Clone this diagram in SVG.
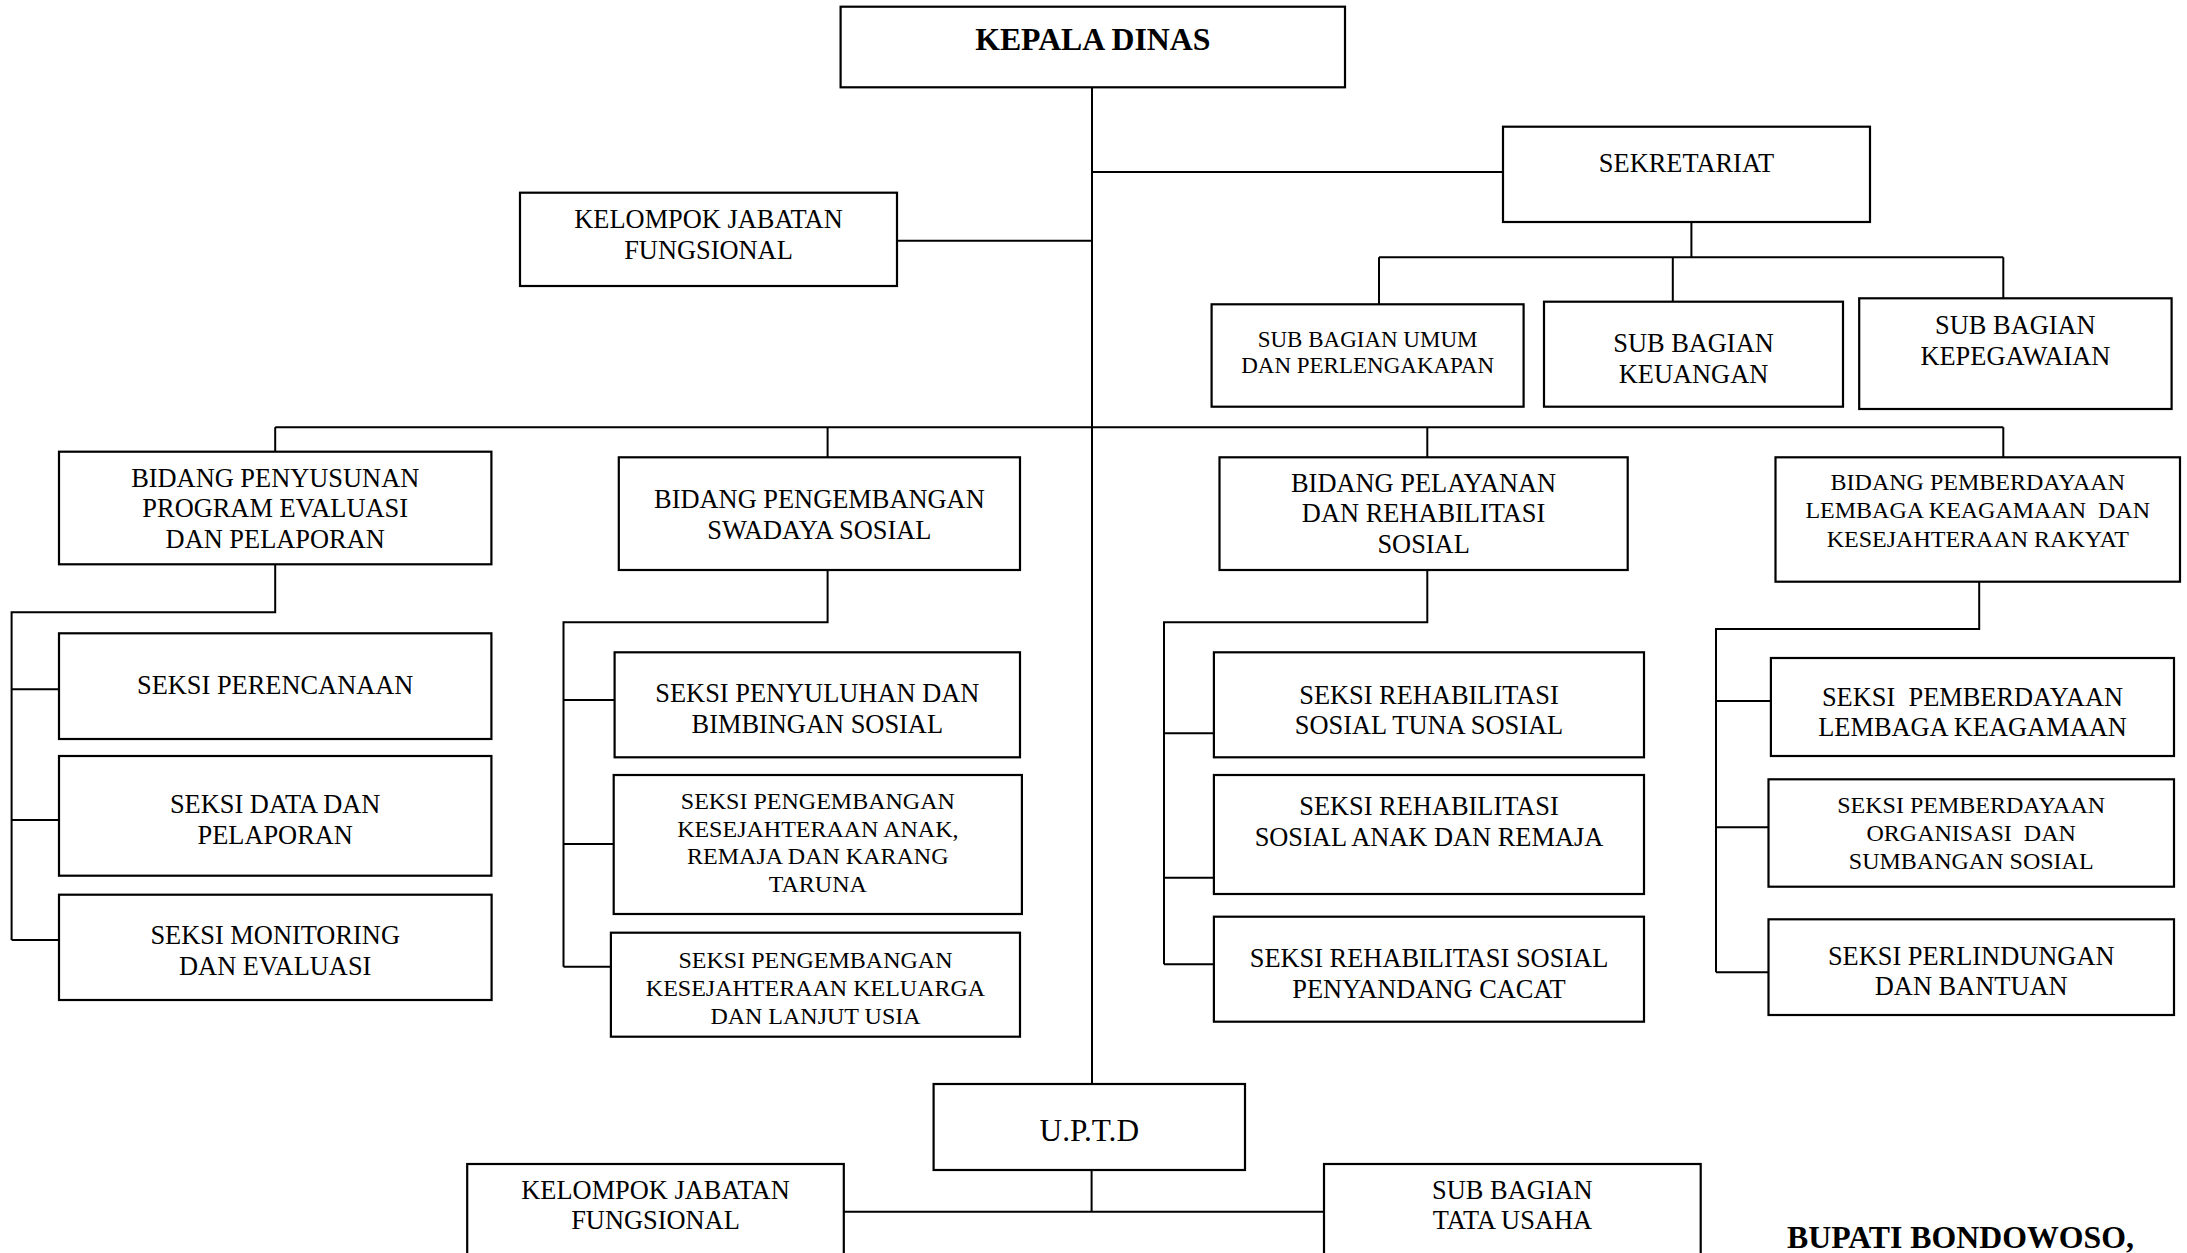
<svg xmlns="http://www.w3.org/2000/svg" width="2187" height="1253" viewBox="0 0 2187 1253">
  <style>
    .box { fill: #fff; stroke: #000; stroke-width: 2.2; }
    .link { fill: none; stroke: #000; stroke-width: 2; }
    text { font-family: "Liberation Serif", "Times New Roman", serif; fill: #000; text-anchor: middle; font-size: 26.4px; }
    .sm { font-size: 24px; }
    .xs { font-size: 23px; }
    .head { font-weight: bold; font-size: 31.8px; }
  </style>

  <rect width="2187" height="1253" fill="#fff"/>

  <!-- connectors -->
  <g id="connectors" class="link">
    <path d="M1092,87 V1084"/>
    <path d="M897,240.7 H1092"/>
    <path d="M1092,172 H1503"/>
    <path d="M1691.4,222 V257.3 M1379,257.3 H2003.3 M1379,257.3 V304.3 M1672.8,257.3 V301.7 M2003.3,257.3 V298.3"/>
    <path d="M275.2,427.3 H2003.3 M275.2,427.3 V451.7 M827.6,427.3 V457.3 M1427.3,427.3 V457.3 M2003.3,427.3 V457.3"/>
    <path d="M275.2,564.3 V612.3 H11.6 V940 M11.6,689.3 H59 M11.6,820 H59 M11.6,940 H59"/>
    <path d="M827.6,570 V622.3 H563.5 V966.7 M563.5,700 H614.6 M563.5,844 H613.7 M563.5,966.7 H610.9"/>
    <path d="M1427.3,570 V622.3 H1164 V964.3 M1164,733.3 H1213.9 M1164,877.7 H1213.9 M1164,964.3 H1213.9"/>
    <path d="M1979.2,581.7 V629 H1716 V972.3 M1716,701 H1770.9 M1716,827.3 H1768.5 M1716,972.3 H1768.5"/>
    <path d="M1091.6,1170 V1211.7 M843.8,1211.7 H1324"/>
  </g>

  <!-- head of office -->
  <g id="kepala-dinas">
    <rect class="box" x="840.6" y="6.7" width="504.4" height="80.6"/>
    <text class="head" x="1092.8" y="50">KEPALA DINAS</text>
  </g>

  <g id="kelompok-jabatan-fungsional">
    <rect class="box" x="520" y="192.7" width="377" height="93.3"/>
    <text x="708.5" y="228">KELOMPOK JABATAN</text>
    <text x="708.5" y="259">FUNGSIONAL</text>
  </g>

  <g id="sekretariat">
    <rect class="box" x="1503" y="126.7" width="367" height="95.3"/>
    <text x="1686.5" y="172">SEKRETARIAT</text>
  </g>

  <g id="sub-bagian-umum">
    <rect class="box" x="1211.6" y="304.3" width="312" height="102.4"/>
    <text class="xs" x="1367.6" y="346.5">SUB BAGIAN UMUM</text>
    <text class="xs" x="1367.6" y="373">DAN PERLENGAKAPAN</text>
  </g>

  <g id="sub-bagian-keuangan">
    <rect class="box" x="1544" y="301.7" width="299" height="105"/>
    <text x="1693.5" y="352">SUB BAGIAN</text>
    <text x="1693.5" y="383">KEUANGAN</text>
  </g>

  <g id="sub-bagian-kepegawaian">
    <rect class="box" x="1859.2" y="298.3" width="312.4" height="110.7"/>
    <text x="2015.4" y="334">SUB BAGIAN</text>
    <text x="2015.4" y="365">KEPEGAWAIAN</text>
  </g>

  <!-- bidang -->
  <g id="bidang-penyusunan">
    <rect class="box" x="59" y="451.7" width="432.4" height="112.6"/>
    <text x="275.2" y="486.5">BIDANG PENYUSUNAN</text>
    <text x="275.2" y="517">PROGRAM EVALUASI</text>
    <text x="275.2" y="547.5">DAN PELAPORAN</text>
  </g>

  <g id="bidang-pengembangan">
    <rect class="box" x="618.8" y="457.3" width="401.2" height="112.7"/>
    <text x="819.4" y="507.5">BIDANG PENGEMBANGAN</text>
    <text x="819.4" y="538.5">SWADAYA SOSIAL</text>
  </g>

  <g id="bidang-pelayanan">
    <rect class="box" x="1219.5" y="457.3" width="408.2" height="112.7"/>
    <text x="1423.6" y="492">BIDANG PELAYANAN</text>
    <text x="1423.6" y="522">DAN REHABILITASI</text>
    <text x="1423.6" y="552.5">SOSIAL</text>
  </g>

  <g id="bidang-pemberdayaan">
    <rect class="box" x="1775.5" y="457.3" width="404.5" height="124.4"/>
    <text class="sm" x="1977.8" y="490">BIDANG PEMBERDAYAAN</text>
    <text class="sm" x="1977.8" y="517.5" xml:space="preserve">LEMBAGA KEAGAMAAN  DAN</text>
    <text class="sm" x="1977.8" y="547">KESEJAHTERAAN RAKYAT</text>
  </g>

  <!-- seksi, column 1 -->
  <g id="seksi-perencanaan">
    <rect class="box" x="59" y="633.3" width="432.4" height="105.7"/>
    <text x="275.2" y="694">SEKSI PERENCANAAN</text>
  </g>

  <g id="seksi-data">
    <rect class="box" x="59" y="756" width="432.4" height="119.7"/>
    <text x="275.2" y="812.5">SEKSI DATA DAN</text>
    <text x="275.2" y="843.5">PELAPORAN</text>
  </g>

  <g id="seksi-monitoring">
    <rect class="box" x="59" y="894.7" width="432.6" height="105.3"/>
    <text x="275.2" y="944">SEKSI MONITORING</text>
    <text x="275.2" y="975">DAN EVALUASI</text>
  </g>

  <!-- seksi, column 2 -->
  <g id="seksi-penyuluhan">
    <rect class="box" x="614.6" y="652.3" width="405.4" height="105"/>
    <text x="817.3" y="702">SEKSI PENYULUHAN DAN</text>
    <text x="817.3" y="733">BIMBINGAN SOSIAL</text>
  </g>

  <g id="seksi-kesejahteraan-anak">
    <rect class="box" x="613.7" y="775" width="408.2" height="139"/>
    <text class="sm" x="817.8" y="808.5">SEKSI PENGEMBANGAN</text>
    <text class="sm" x="817.8" y="836.5">KESEJAHTERAAN ANAK,</text>
    <text class="sm" x="817.8" y="864">REMAJA DAN KARANG</text>
    <text class="sm" x="817.8" y="891.5">TARUNA</text>
  </g>

  <g id="seksi-kesejahteraan-keluarga">
    <rect class="box" x="610.9" y="932.7" width="409.1" height="104"/>
    <text class="sm" x="815.5" y="968">SEKSI PENGEMBANGAN</text>
    <text class="sm" x="815.5" y="996">KESEJAHTERAAN KELUARGA</text>
    <text class="sm" x="815.5" y="1024">DAN LANJUT USIA</text>
  </g>

  <!-- seksi, column 3 -->
  <g id="seksi-tuna-sosial">
    <rect class="box" x="1213.9" y="652.3" width="430.1" height="105"/>
    <text x="1429" y="704">SEKSI REHABILITASI</text>
    <text x="1429" y="734">SOSIAL TUNA SOSIAL</text>
  </g>

  <g id="seksi-anak-remaja">
    <rect class="box" x="1213.9" y="775" width="430.1" height="119"/>
    <text x="1429" y="815">SEKSI REHABILITASI</text>
    <text x="1429" y="846">SOSIAL ANAK DAN REMAJA</text>
  </g>

  <g id="seksi-penyandang-cacat">
    <rect class="box" x="1213.9" y="916.7" width="430.1" height="105"/>
    <text x="1429" y="967">SEKSI REHABILITASI SOSIAL</text>
    <text x="1429" y="998">PENYANDANG CACAT</text>
  </g>

  <!-- seksi, column 4 -->
  <g id="seksi-lembaga-keagamaan">
    <rect class="box" x="1770.9" y="658" width="403.1" height="98"/>
    <text x="1972.5" y="706" xml:space="preserve">SEKSI  PEMBERDAYAAN</text>
    <text x="1972.5" y="736">LEMBAGA KEAGAMAAN</text>
  </g>

  <g id="seksi-organisasi-sumbangan">
    <rect class="box" x="1768.5" y="779.3" width="405.5" height="107.4"/>
    <text class="sm" x="1971.2" y="813">SEKSI PEMBERDAYAAN</text>
    <text class="sm" x="1971.2" y="841" xml:space="preserve">ORGANISASI  DAN</text>
    <text class="sm" x="1971.2" y="869">SUMBANGAN SOSIAL</text>
  </g>

  <g id="seksi-perlindungan">
    <rect class="box" x="1768.5" y="919.3" width="405.5" height="95.7"/>
    <text x="1971.2" y="964.5">SEKSI PERLINDUNGAN</text>
    <text x="1971.2" y="995">DAN BANTUAN</text>
  </g>

  <!-- technical unit -->
  <g id="uptd">
    <rect class="box" x="933.6" y="1084" width="311.4" height="86"/>
    <text x="1089.3" y="1141" style="font-size:31.3px">U.P.T.D</text>
  </g>

  <g id="uptd-kelompok-jabatan">
    <rect class="box" x="467.2" y="1164" width="376.6" height="100"/>
    <text x="655.5" y="1199">KELOMPOK JABATAN</text>
    <text x="655.5" y="1229">FUNGSIONAL</text>
  </g>

  <g id="uptd-tata-usaha">
    <rect class="box" x="1324" y="1164" width="376.7" height="100"/>
    <text x="1512.4" y="1199">SUB BAGIAN</text>
    <text x="1512.4" y="1229">TATA USAHA</text>
  </g>

  <text class="head" x="1787" y="1248" style="text-anchor:start">BUPATI BONDOWOSO,</text>
</svg>
